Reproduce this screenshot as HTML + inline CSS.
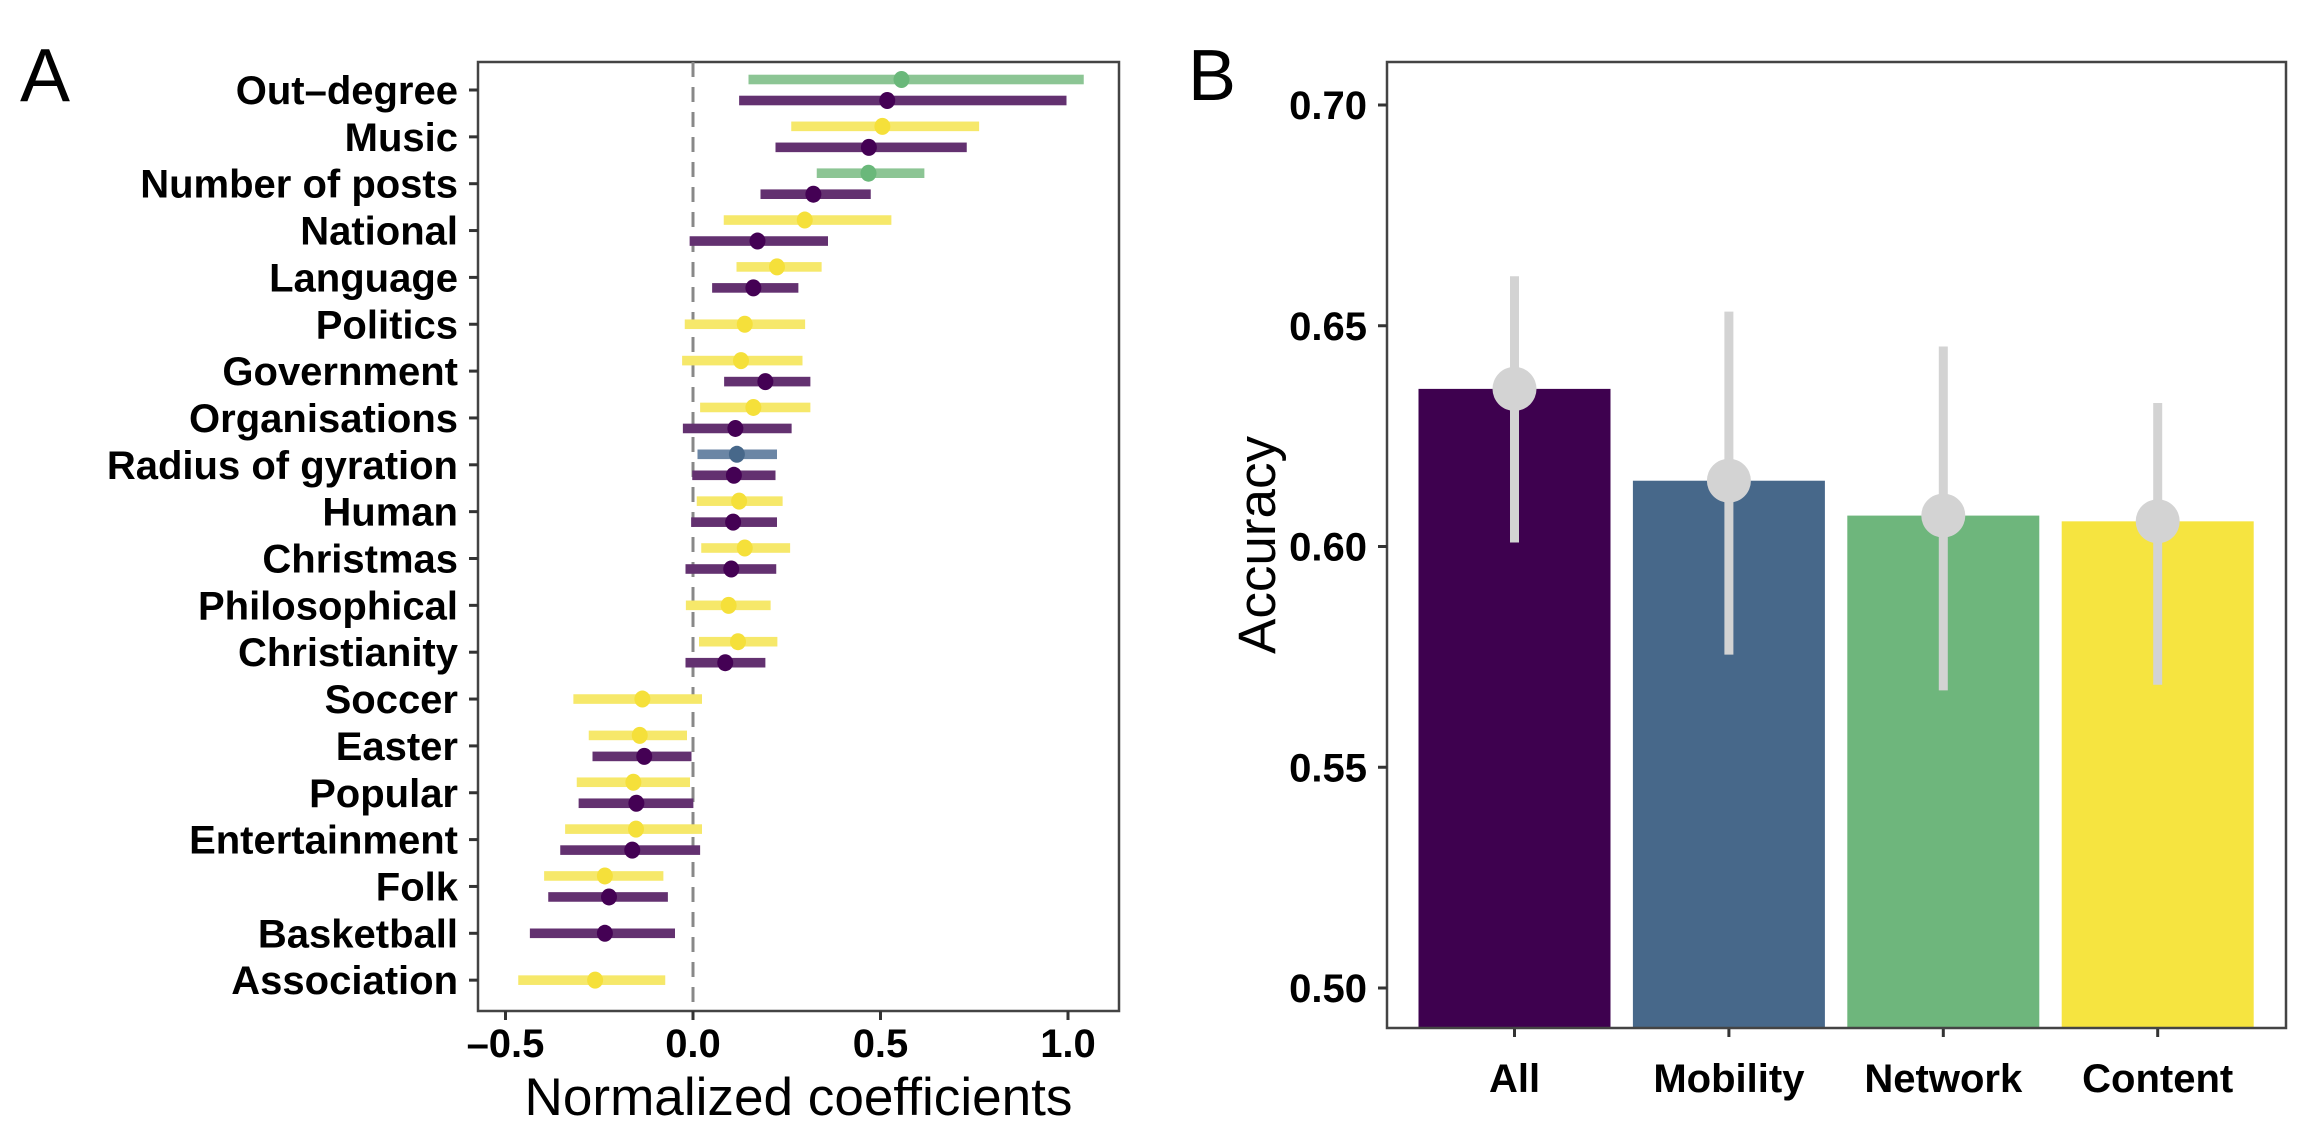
<!DOCTYPE html>
<html><head><meta charset="utf-8"><style>
html,body{margin:0;padding:0;background:#fff;}
svg{display:block;font-family:"Liberation Sans",Arial,sans-serif;}
</style></head><body>
<svg id="fig" width="2319" height="1137" viewBox="0 0 2319 1137" xmlns="http://www.w3.org/2000/svg">
<rect width="2319" height="1137" fill="#fff"/>
<text x="20" y="101" font-size="75">A</text>
<text x="1188" y="100" font-size="72">B</text>
<g id="pa"></g>
<g id="pb"></g>
</svg>
<script>
// ---------- Panel A data ----------
const categories = ["Out\u2013degree","Music","Number of posts","National","Language","Politics","Government","Organisations","Radius of gyration","Human","Christmas","Philosophical","Christianity","Soccer","Easter","Popular","Entertainment","Folk","Basketball","Association"];
const rowCat   = ["Out\u2013degree","Out\u2013degree","Music","Music","Number of posts","Number of posts","National","National","Language","Language","Politics","Government","Government","Organisations","Organisations","Radius of gyration","Radius of gyration","Human","Human","Christmas","Christmas","Philosophical","Christianity","Christianity","Soccer","Easter","Easter","Popular","Popular","Entertainment","Entertainment","Folk","Folk","Basketball","Association"];
const rowGroup = ["network","all","content","all","network","all","content","all","content","all","content","content","all","content","all","mobility","all","content","all","content","all","content","content","all","content","content","all","content","all","content","all","content","all","all","content"];
const rowMid   = [0.556,0.518,0.505,0.469,0.468,0.321,0.298,0.172,0.224,0.161,0.138,0.128,0.193,0.161,0.113,0.117,0.109,0.123,0.107,0.138,0.102,0.095,0.120,0.086,-0.135,-0.142,-0.130,-0.159,-0.151,-0.152,-0.162,-0.235,-0.224,-0.235,-0.261];
const rowLow   = [0.148,0.123,0.262,0.220,0.330,0.180,0.082,-0.009,0.116,0.051,-0.022,-0.029,0.083,0.019,-0.027,0.012,-0.002,0.010,-0.005,0.022,-0.020,-0.019,0.016,-0.020,-0.319,-0.278,-0.268,-0.310,-0.305,-0.341,-0.354,-0.397,-0.386,-0.435,-0.466];
const rowHigh  = [1.042,0.996,0.763,0.730,0.617,0.474,0.529,0.360,0.343,0.281,0.299,0.292,0.313,0.313,0.263,0.224,0.220,0.239,0.224,0.259,0.222,0.207,0.225,0.193,0.024,-0.016,-0.004,-0.008,0.001,0.024,0.019,-0.079,-0.067,-0.048,-0.074];
const xTicks = [-0.5,0,0.5,1.0];
const xTickLabels = ["\u20130.5","0.0","0.5","1.0"];

// ---------- Panel B data ----------
const models = ["All","Mobility","Network","Content"];
const accuracy = [0.6357,0.6149,0.6070,0.6057];
const accLow = [0.6009,0.5755,0.5674,0.5687];
const accHigh = [0.6612,0.6532,0.6453,0.6325];
const yTicks = [0.50,0.55,0.60,0.65,0.70];
const yTickLabels = ["0.50","0.55","0.60","0.65","0.70"];

const NS = "http://www.w3.org/2000/svg";
function mk(parent, tag, attrs){ const e=document.createElementNS(NS,tag); for(const k in attrs) e.setAttribute(k,attrs[k]); parent.appendChild(e); return e; }

// ---------- Panel A ----------
(function(){
  const g=document.getElementById('pa');
  const L=478,R=1119,T=62,B=1011;
  const x=v=>693+v*375;
  const yCat=i=>90+i*46.85;
  const barCol={all:"#633170",content:"#f6e86a",network:"#8cc594",mobility:"#6b86a5"};
  const dotCol={all:"#440154",content:"#f5e03a",network:"#6ab87a",mobility:"#47688a"};
  let el=mk(g,'rect',{x:L,y:T,width:R-L,height:B-T,fill:'none',stroke:'#444','stroke-width':2.5});
  
  
  el=mk(g,'line',{x1:x(0),x2:x(0),y1:T,y2:B,stroke:'#888','stroke-width':3,'stroke-dasharray':'15 10'});
  
  
  categories.forEach((c,i)=>{
    const yy=yCat(i);
    let t=mk(g,'line',{x1:L-9,x2:L,y1:yy,y2:yy,stroke:'#333','stroke-width':3});
    
    
    let lb=mk(g,'text',{x:458,y:yy+14,'text-anchor':'end','font-size':40,'font-weight':'bold'});
    lb.textContent=c;
    
    
  });
  rowCat.forEach((c,j)=>{
    const ci=categories.indexOf(c);
    const n=rowCat.filter(z=>z===c).length;
    const first=rowCat.indexOf(c)===j;
    let yy=yCat(ci);
    if(n===2) yy+= first?-10.5:10.5;
    const grp=rowGroup[j];
    let b=mk(g,'rect',{x:x(rowLow[j]),y:yy-4.8,width:x(rowHigh[j])-x(rowLow[j]),height:9.6,fill:barCol[grp]});
    
    
    let d=mk(g,'ellipse',{cx:x(rowMid[j]),cy:yy,rx:8,ry:8.5,fill:dotCol[grp]});
    
    
  });
  xTicks.forEach((v,i)=>{
    let t=mk(g,'line',{x1:x(v),x2:x(v),y1:B,y2:B+9,stroke:'#333','stroke-width':3});
    
    
    let lb=mk(g,'text',{x:x(v),y:1057,'text-anchor':'middle','font-size':40,'font-weight':'bold'});
    lb.textContent=xTickLabels[i];
    
    
  });
  let tt=mk(g,'text',{x:(L+R)/2,y:1115,'text-anchor':'middle','font-size':53,textLength:548,lengthAdjust:'spacingAndGlyphs'});
  tt.textContent="Normalized coefficients";
  
  
})();

// ---------- Panel B ----------
(function(){
  const g=document.getElementById('pb');
  const L=1387,R=2286,T=62,B=1028;
  const y=v=>105+(0.70-v)*4415;
  const xc=i=>1514.5+i*214.4;
  const bw=192;
  const cols=["#3e014f","#47688a","#6eb67c","#f6e440"];
  models.forEach((m,i)=>{
    let b=mk(g,'rect',{x:xc(i)-bw/2,y:y(accuracy[i]),width:bw,height:B-y(accuracy[i]),fill:cols[i]});
    
    
  });
  models.forEach((m,i)=>{
    let l=mk(g,'line',{x1:xc(i),x2:xc(i),y1:y(accHigh[i]),y2:y(accLow[i]),stroke:'#d3d3d3','stroke-width':9});
    
    
    let d=mk(g,'circle',{cx:xc(i),cy:y(accuracy[i]),r:22,fill:'#d3d3d3'});
    
    
    let t=mk(g,'line',{x1:xc(i),x2:xc(i),y1:B,y2:B+9,stroke:'#333','stroke-width':3});
    
    
    let lb=mk(g,'text',{x:xc(i),y:1092,'text-anchor':'middle','font-size':40,'font-weight':'bold'});
    lb.textContent=m;
    
    
  });
  let f=mk(g,'rect',{x:L,y:T,width:R-L,height:B-T,fill:'none',stroke:'#444','stroke-width':2.5});
  
  
  yTicks.forEach((v,i)=>{
    let t=mk(g,'line',{x1:L-9,x2:L,y1:y(v),y2:y(v),stroke:'#333','stroke-width':3});
    
    
    let lb=mk(g,'text',{x:1367,y:y(v)+14,'text-anchor':'end','font-size':40,'font-weight':'bold'});
    lb.textContent=yTickLabels[i];
    
    
  });
  let tt=mk(g,'text',{x:0,y:0,'text-anchor':'middle','font-size':53,transform:'translate(1275,545) rotate(-90)',textLength:218,lengthAdjust:'spacingAndGlyphs'});
  tt.textContent="Accuracy";
  
  
})();
</script>
</body></html>
